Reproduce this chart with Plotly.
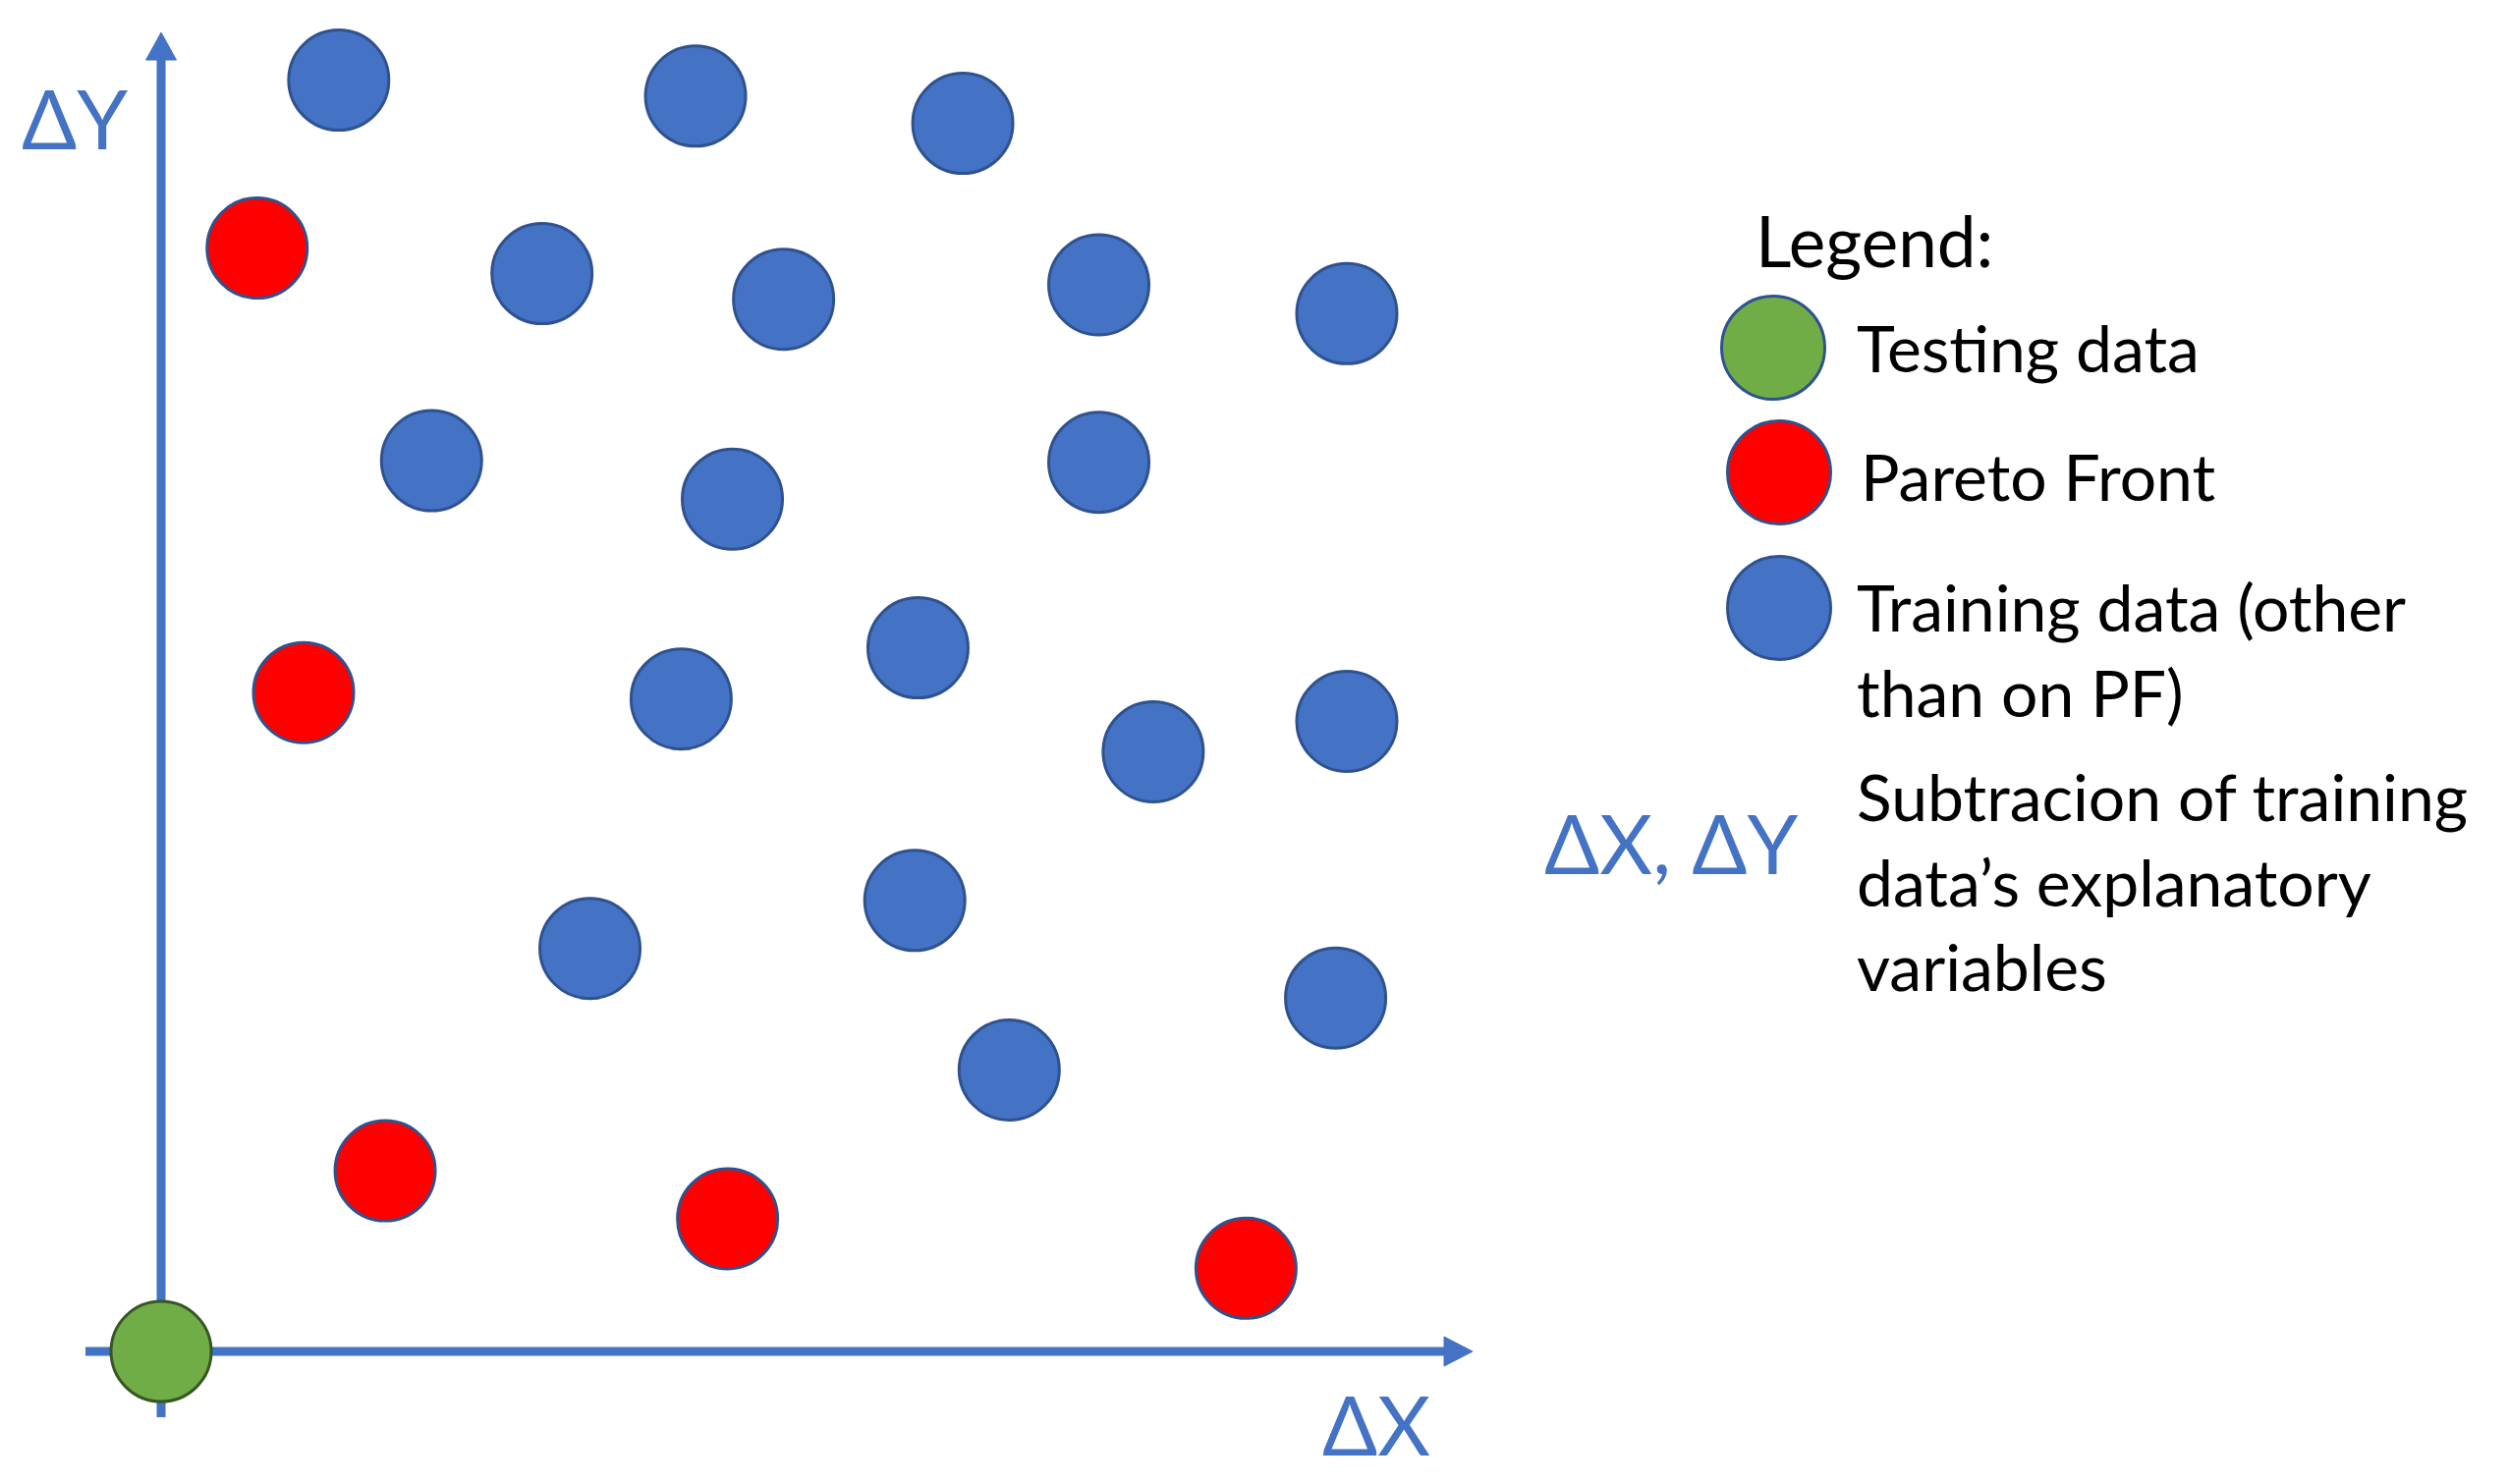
import plotly.graph_objects as go

# ---------------- data (ΔX, ΔY in arbitrary units, origin = testing point) ----------------
training_dx = [11.1, 33.4, 50.1, 23.8, 38.9, 58.6, 74.1, 16.9, 35.7, 58.6,
               47.3, 32.5, 62.0, 74.1, 47.1, 26.8, 73.4, 53.0]
training_dy = [79.5, 78.5, 76.8, 67.4, 65.8, 66.7, 64.9, 55.7, 53.3, 55.6,
               44.0, 40.8, 37.5, 39.4, 28.2, 25.2, 22.1, 17.6]

pareto_dx = [6.0, 8.9, 14.0, 35.4, 67.8]
pareto_dy = [69.0, 41.2, 11.3, 8.3, 5.2]

testing_dx = [0.0]
testing_dy = [0.0]

legend_labels = ["Testing data", "Pareto Front", "Training data (other", "than on PF)"]
note_lines = ["Subtracion of training", "data’s explanatory", "variables"]

# ---------------- styling ----------------
W, H = 2554, 1511
AX_BLUE = "#4472C4"
OUT_BLUE = "#2F528F"
FONT = "Lato"

XR = [-10.07, 146.73]
YR = [-8.29, 84.51]

fig = go.Figure()

fig.add_trace(go.Scatter(
    x=training_dx, y=training_dy, mode="markers",
    marker=dict(size=102, color="#4472C4", line=dict(color=OUT_BLUE, width=3)),
    showlegend=False, hoverinfo="skip"))
fig.add_trace(go.Scatter(
    x=pareto_dx, y=pareto_dy, mode="markers",
    marker=dict(size=102, color="#FF0000", line=dict(color=OUT_BLUE, width=3)),
    showlegend=False, hoverinfo="skip"))
fig.add_trace(go.Scatter(
    x=testing_dx, y=testing_dy, mode="markers",
    marker=dict(size=102, color="#70AD47", line=dict(color="#375623", width=3)),
    showlegend=False, hoverinfo="skip"))

shapes = []
# axis lines with arrowheads (drawn in data coordinates)
shapes.append(dict(type="line", xref="x", yref="y", x0=0, x1=0, y0=-4.11, y1=80.9,
                   line=dict(color=AX_BLUE, width=9), layer="below"))
shapes.append(dict(type="path", xref="x", yref="y",
                   path="M -0.95,80.76 L 0.95,80.76 L 0,82.48 Z",
                   fillcolor=AX_BLUE, line=dict(color=AX_BLUE, width=1), layer="below"))
shapes.append(dict(type="line", xref="x", yref="y", x0=-4.73, x1=80.3, y0=0, y1=0,
                   line=dict(color=AX_BLUE, width=9), layer="below"))
shapes.append(dict(type="path", xref="x", yref="y",
                   path="M 80.18,-0.92 L 80.18,0.92 L 81.96,0 Z",
                   fillcolor=AX_BLUE, line=dict(color=AX_BLUE, width=1), layer="below"))


def px(xp):
    return xp / W


def py(yp):
    return 1 - yp / H


def circle(cx, cy, fill, d=105):
    r = d / 2
    return dict(type="circle", xref="paper", yref="paper",
                x0=px(cx - r), x1=px(cx + r), y0=py(cy + r), y1=py(cy - r),
                fillcolor=fill, line=dict(color=OUT_BLUE, width=3), layer="above")


shapes.append(circle(1805, 354, "#70AD47"))
shapes.append(circle(1811, 481, "#FF0000"))
shapes.append(circle(1811, 619, "#4472C4"))

annotations = []


def txt(text, x, y, size, color="black"):
    annotations.append(dict(text=text, x=px(x), y=py(y), xref="paper", yref="paper",
                            xanchor="left", yanchor="middle", showarrow=False,
                            font=dict(family=FONT, size=size, color=color)))


txt("ΔY", 20, 120, 83, AX_BLUE)
txt("ΔX", 1344, 1450, 83, AX_BLUE)
txt("Legend:", 1785, 244, 71)
legend_y = [353, 485, 617, 704]
legend_x = [1888, 1892, 1888, 1888]
for lab, lx, ly in zip(legend_labels, legend_x, legend_y):
    txt(lab, lx, ly, 66)
txt("ΔX, ΔY", 1570, 858, 83, AX_BLUE)
for lab, ly in zip(note_lines, [810, 898, 983]):
    txt(lab, 1888, ly, 66)

fig.update_layout(
    width=W, height=H, margin=dict(l=0, r=0, t=0, b=0),
    paper_bgcolor="white", plot_bgcolor="white",
    xaxis=dict(range=XR, visible=False, fixedrange=True),
    yaxis=dict(range=YR, visible=False, fixedrange=True),
    shapes=shapes, annotations=annotations, showlegend=False,
)

fig.write_html("out.html", config={"displayModeBar": False},
               post_script="document.body.style.margin='0';document.body.style.overflow='hidden';")
